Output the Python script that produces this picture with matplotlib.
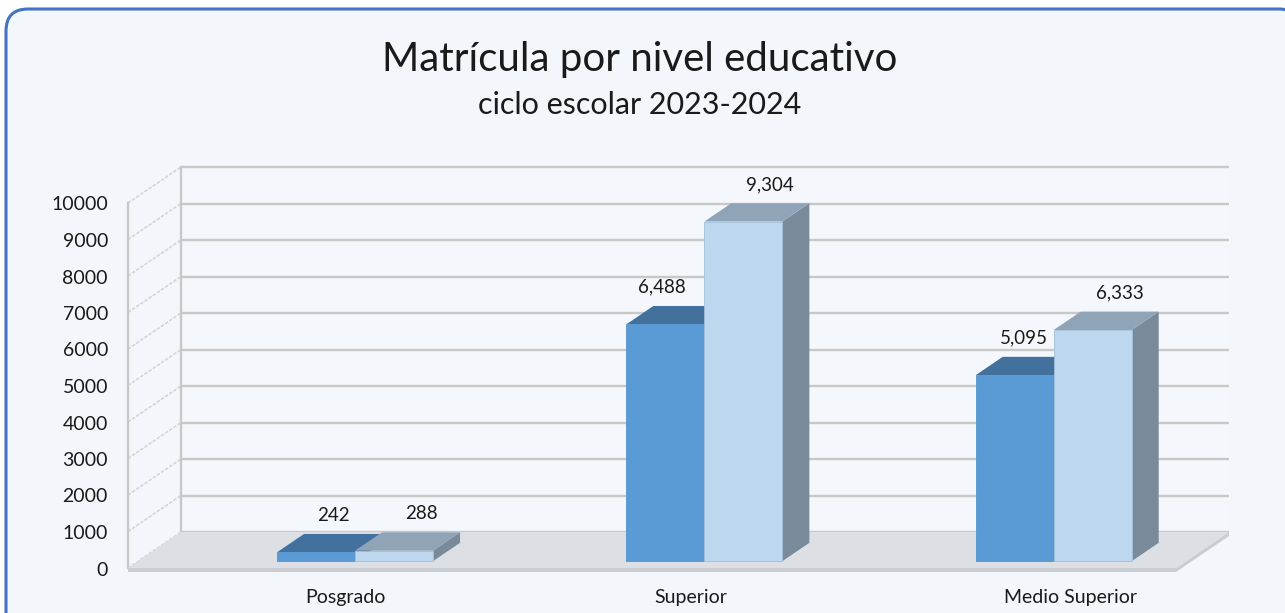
import matplotlib
matplotlib.use("Agg")
import matplotlib.pyplot as plt
from matplotlib.patches import Polygon, FancyBboxPatch

# ---------------- data ----------------
categories = ["Posgrado", "Superior", "Medio Superior"]
serie_oscura = [242, 6488, 5095]
serie_clara = [288, 9304, 6333]
y_ticks = [0, 1000, 2000, 3000, 4000, 5000, 6000, 7000, 8000, 9000, 10000]
y_tick_labels = [str(t) for t in y_ticks]
title = "Matrícula por nivel educativo"
subtitle = "ciclo escolar 2023-2024"

# ---------------- layout / style ----------------
W, H = 1285, 613
FONT = ["Lato", "DejaVu Sans"]
plt.rcParams['font.family'] = FONT

fig = plt.figure(figsize=(W / 100, H / 100), dpi=100)
fig.patch.set_facecolor("white")

# background panel with rounded blue border
bg = fig.add_axes([0, 0, 1, 1])
bg.set_xlim(0, W)
bg.set_ylim(H, 0)
bg.axis("off")
bg.add_patch(FancyBboxPatch((6, 9), W + 10, H + 20,
                            boxstyle="round,pad=0,rounding_size=22",
                            fc="#f3f6fb", ec="#4472c4", lw=2.2))
bg.text(640, 60, title, ha="center", va="center", fontsize=29, color="#1a1a1a")
bg.text(640, 105, subtitle, ha="center", va="center", fontsize=22, color="#1a1a1a")

# plot axes: front plane of the 3D box
L, R, B0, T10 = 128, 1176, 568, 203
ax = fig.add_axes([L / W, (H - B0) / H, (R - L) / W, (B0 - T10) / H])
ax.set_xlim(-0.5, len(categories) - 0.5)
ax.set_ylim(0, 10000)
ax.axis("off")
ppx = (R - L) / len(categories)      # pixels per category unit
ppy = (B0 - T10) / 10000.0           # pixels per value unit
DEPTH_X, DEPTH_Y = 53, 36            # pixel offset of the back plane
DX = DEPTH_X / ppx
DY = DEPTH_Y / ppy


def P(x, v, z):
    return (x + z * DX, v + z * DY)


grid_c = "#c8c8c8"
x0, x1 = -0.5, len(categories) - 0.5
ymax = y_ticks[-1]

# left wall + back wall
ax.add_patch(Polygon([P(x0, 0, 0), P(x0, 0, 1), P(x0, ymax, 1), P(x0, ymax, 0)],
                     closed=True, fc="#f3f6fb", ec="none", clip_on=False, zorder=1))
ax.add_patch(Polygon([P(x0, 0, 1), P(x1, 0, 1), P(x1, ymax, 1), P(x0, ymax, 1)],
                     closed=True, fc="#f4f7fb", ec="none", clip_on=False, zorder=1))
for t in y_ticks:
    a, b = P(x0, t, 1), P(x1, t, 1)
    ax.plot([a[0], b[0]], [a[1], b[1]], color=grid_c, lw=1.7, clip_on=False, zorder=2,
            solid_capstyle="butt")
    a0 = P(x0, t, 0)
    ax.plot([a0[0], a[0]], [a0[1], a[1]], color="#d4d4d4", lw=1.2, ls=(0, (2, 1)),
            clip_on=False, zorder=2)
# vertical edges
for z in (0, 1):
    a, b = P(x0, 0, z), P(x0, ymax, z)
    ax.plot([a[0], b[0]], [a[1], b[1]], color=grid_c, lw=1.7, clip_on=False, zorder=2)

# floor
slab = 4 / ppy
ax.add_patch(Polygon([P(x0, 0, 0), P(x1, 0, 0), P(x1, 0, 1),
                      P(x1, -slab, 1), P(x1, -slab, 0), P(x0, -slab, 0)],
                     closed=True, fc="#c9ccd0", ec="none", clip_on=False, zorder=3))
ax.add_patch(Polygon([P(x0, 0, 0), P(x1, 0, 0), P(x1, 0, 1), P(x0, 0, 1)],
                     closed=True, fc="#dcdfe3", ec="none", clip_on=False, zorder=3))

# tick labels
for t, lab in zip(y_ticks, y_tick_labels):
    ax.annotate(lab, xy=P(x0, t, 0), xytext=(-20, -2), textcoords="offset pixels",
                ha="right", va="center", fontsize=14, color="#1a1a1a",
                annotation_clip=False)

# bars
Z0, Z1 = 0.19, 0.70
BW = 78 / ppx
PAIR_OFF = 0.121
styles = [
    dict(front="#5b9bd5", top="#41719c", side="#3f6d96", edge="#5595cf"),
    dict(front="#bdd7ee", top="#8fa4b7", side="#798a9a", edge="#a3bfd9"),
]
label_dx = [[17, 27], [-3, 27], [9, 27]]   # pixel offsets of value labels
cat_dx = [-10, -14, 17]                     # pixel offsets of category labels

zo = 4
for i, cat in enumerate(categories):
    c = i + PAIR_OFF
    for j, vals in enumerate([serie_oscura, serie_clara]):
        v = vals[i]
        st = styles[j]
        xa = c - BW + j * BW
        xb = xa + BW
        side = [P(xb, 0, Z0), P(xb, 0, Z1), P(xb, v, Z1), P(xb, v, Z0)]
        top = [P(xa, v, Z0), P(xb, v, Z0), P(xb, v, Z1), P(xa, v, Z1)]
        front = [P(xa, 0, Z0), P(xb, 0, Z0), P(xb, v, Z0), P(xa, v, Z0)]
        ax.add_patch(Polygon(side, closed=True, fc=st["side"], ec="none", clip_on=False, zorder=zo))
        ax.add_patch(Polygon(top, closed=True, fc=st["top"], ec="none", clip_on=False, zorder=zo + 0.1))
        ax.add_patch(Polygon(front, closed=True, fc=st["front"], ec=st["edge"], lw=0.6,
                             clip_on=False, zorder=zo + 0.2))
        zo += 1
        # value label
        fx, fy = P(xa + BW / 2, v, Z0)
        ax.annotate(f"{v:,}", xy=(fx, fy), xytext=(label_dx[i][j], 18 + 19),
                    textcoords="offset pixels", ha="center", va="center",
                    fontsize=13.5, color="#1a1a1a", annotation_clip=False, zorder=20)
    # category label
    ax.annotate(cat, xy=P(c, 0, Z0), xytext=(cat_dx[i], -36), textcoords="offset pixels",
                ha="center", va="center", fontsize=14, color="#1a1a1a",
                annotation_clip=False)

fig.savefig("out.png", dpi=100, facecolor=fig.get_facecolor())
